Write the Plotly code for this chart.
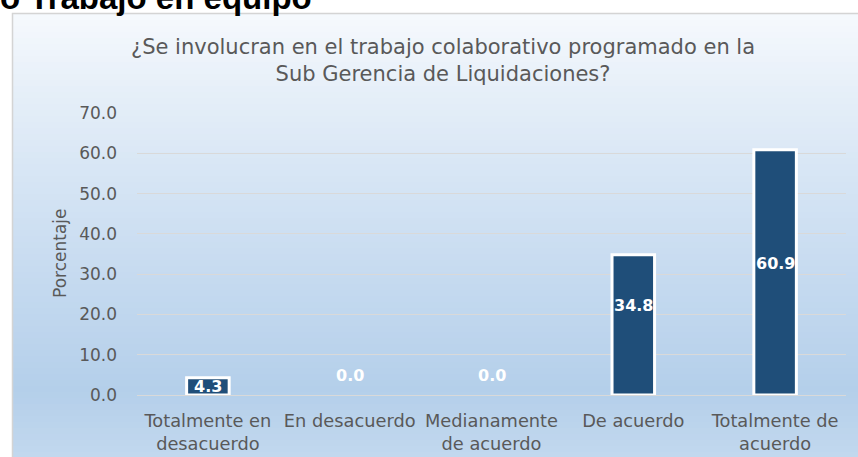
import plotly.graph_objects as go

# ---- data ----
categories = ["Totalmente en<br>desacuerdo", "En desacuerdo", "Medianamente<br>de acuerdo",
              "De acuerdo", "Totalmente de<br>acuerdo"]
values = [4.3, 0.0, 0.0, 34.8, 60.9]
y_ticks = [0, 10, 20, 30, 40, 50, 60, 70]
y_tick_labels = ["0.0", "10.0", "20.0", "30.0", "40.0", "50.0", "60.0", "70.0"]
title_text = "¿Se involucran en el trabajo colaborativo programado en la<br>Sub Gerencia de Liquidaciones?"
header_text = "o Trabajo en equipo"
y_title = "Porcentaje"

# ---- styling: pixel nudges of the value labels as placed in the reference ----
label_yshift_px = [0, 20, 20, 19, 9]

# ---- layout geometry (pixels) ----
FW, FH = 858, 457
L, R, T, B = 137, 846, 113, 395
W, H = R - L, B - T


def px2x(px):
    return (px - L) / W


def py2y(py):
    return (B - py) / H


def hex2rgb(h):
    h = h.lstrip("#")
    return tuple(int(h[i:i + 2], 16) for i in (0, 2, 4))


stops = [(14, "#F6F9FD"), (100, "#E4EEF8"), (250, "#CADDF1"), (390, "#B4CFEA"), (457, "#C2D8EE")]


def color_at(py):
    for (y0, c0), (y1, c1) in zip(stops[:-1], stops[1:]):
        if y0 <= py <= y1:
            t = (py - y0) / (y1 - y0)
            a, b = hex2rgb(c0), hex2rgb(c1)
            return "rgb(%d,%d,%d)" % tuple(round(a[i] + (b[i] - a[i]) * t) for i in range(3))
    return stops[-1][1]


shapes = []
top, bottom, step = 14, 462, 6
y = top
while y < bottom:
    y2 = min(y + step, bottom)
    shapes.append(dict(type="rect", xref="paper", yref="paper", layer="below",
                       x0=px2x(13), x1=px2x(FW + 5), y0=py2y(y2 + 0.5), y1=py2y(y),
                       fillcolor=color_at((y + y2) / 2), line=dict(width=0)))
    y = y2
# frame border
shapes.append(dict(type="rect", xref="paper", yref="paper", layer="below",
                   x0=px2x(12.5), x1=px2x(FW + 10), y0=py2y(FH + 10), y1=py2y(13.5),
                   fillcolor="rgba(0,0,0,0)", line=dict(color="#D4D4D4", width=1.5)))

fig = go.Figure()
fig.add_trace(go.Bar(
    x=categories, y=values, width=0.30,
    marker=dict(color="#1F4E79",
                line=dict(color="white", width=[3 if v > 0 else 0 for v in values])),
    hoverinfo="skip",
))

annotations = []
for c, v, s in zip(categories, values, label_yshift_px):
    annotations.append(dict(x=c, y=v / 2, xref="x", yref="y", text="%.1f" % v, showarrow=False,
                            yshift=s,
                            font=dict(family="DejaVu Sans", size=16, color="white", weight="bold")))

annotations.append(dict(xref="paper", yref="paper", x=px2x(60), y=py2y(253), text=y_title,
                        textangle=-90, showarrow=False, xanchor="center", yanchor="middle",
                        font=dict(family="DejaVu Sans", size=17, color="#595959")))
annotations.append(dict(xref="paper", yref="paper", x=px2x(443), y=py2y(60), text=title_text,
                        showarrow=False, xanchor="center", yanchor="middle",
                        font=dict(family="DejaVu Sans", size=21, color="#595959")))
annotations.append(dict(xref="paper", yref="paper", x=px2x(-2), y=py2y(-3), text=header_text,
                        showarrow=False, xanchor="left", yanchor="middle",
                        font=dict(family="Liberation Sans", size=33, color="black", weight="bold")))

fig.update_layout(
    width=FW, height=FH,
    margin=dict(l=L, r=FW - R, t=T, b=FH - B, pad=0, autoexpand=False),
    paper_bgcolor="white", plot_bgcolor="rgba(0,0,0,0)",
    showlegend=False, bargap=0.7,
    shapes=shapes, annotations=annotations,
    xaxis=dict(showgrid=False, zeroline=False, showline=False, ticks="", automargin=False,
               tickfont=dict(family="DejaVu Sans", size=17.8, color="#595959"),
               ticklabelstandoff=13, fixedrange=True),
    yaxis=dict(range=[0, 70], tickvals=y_ticks, ticktext=y_tick_labels, automargin=False,
               showgrid=True, gridcolor="#D9D9D9", gridwidth=1,
               zeroline=True, zerolinecolor="#D9D9D9", zerolinewidth=1,
               showline=False, ticks="",
               tickfont=dict(family="DejaVu Sans", size=17, color="#595959"),
               ticklabelstandoff=19, fixedrange=True),
)

fig.write_html("out.html", config={"displayModeBar": False, "staticPlot": True},
               post_script="document.body.style.margin='0px';")
